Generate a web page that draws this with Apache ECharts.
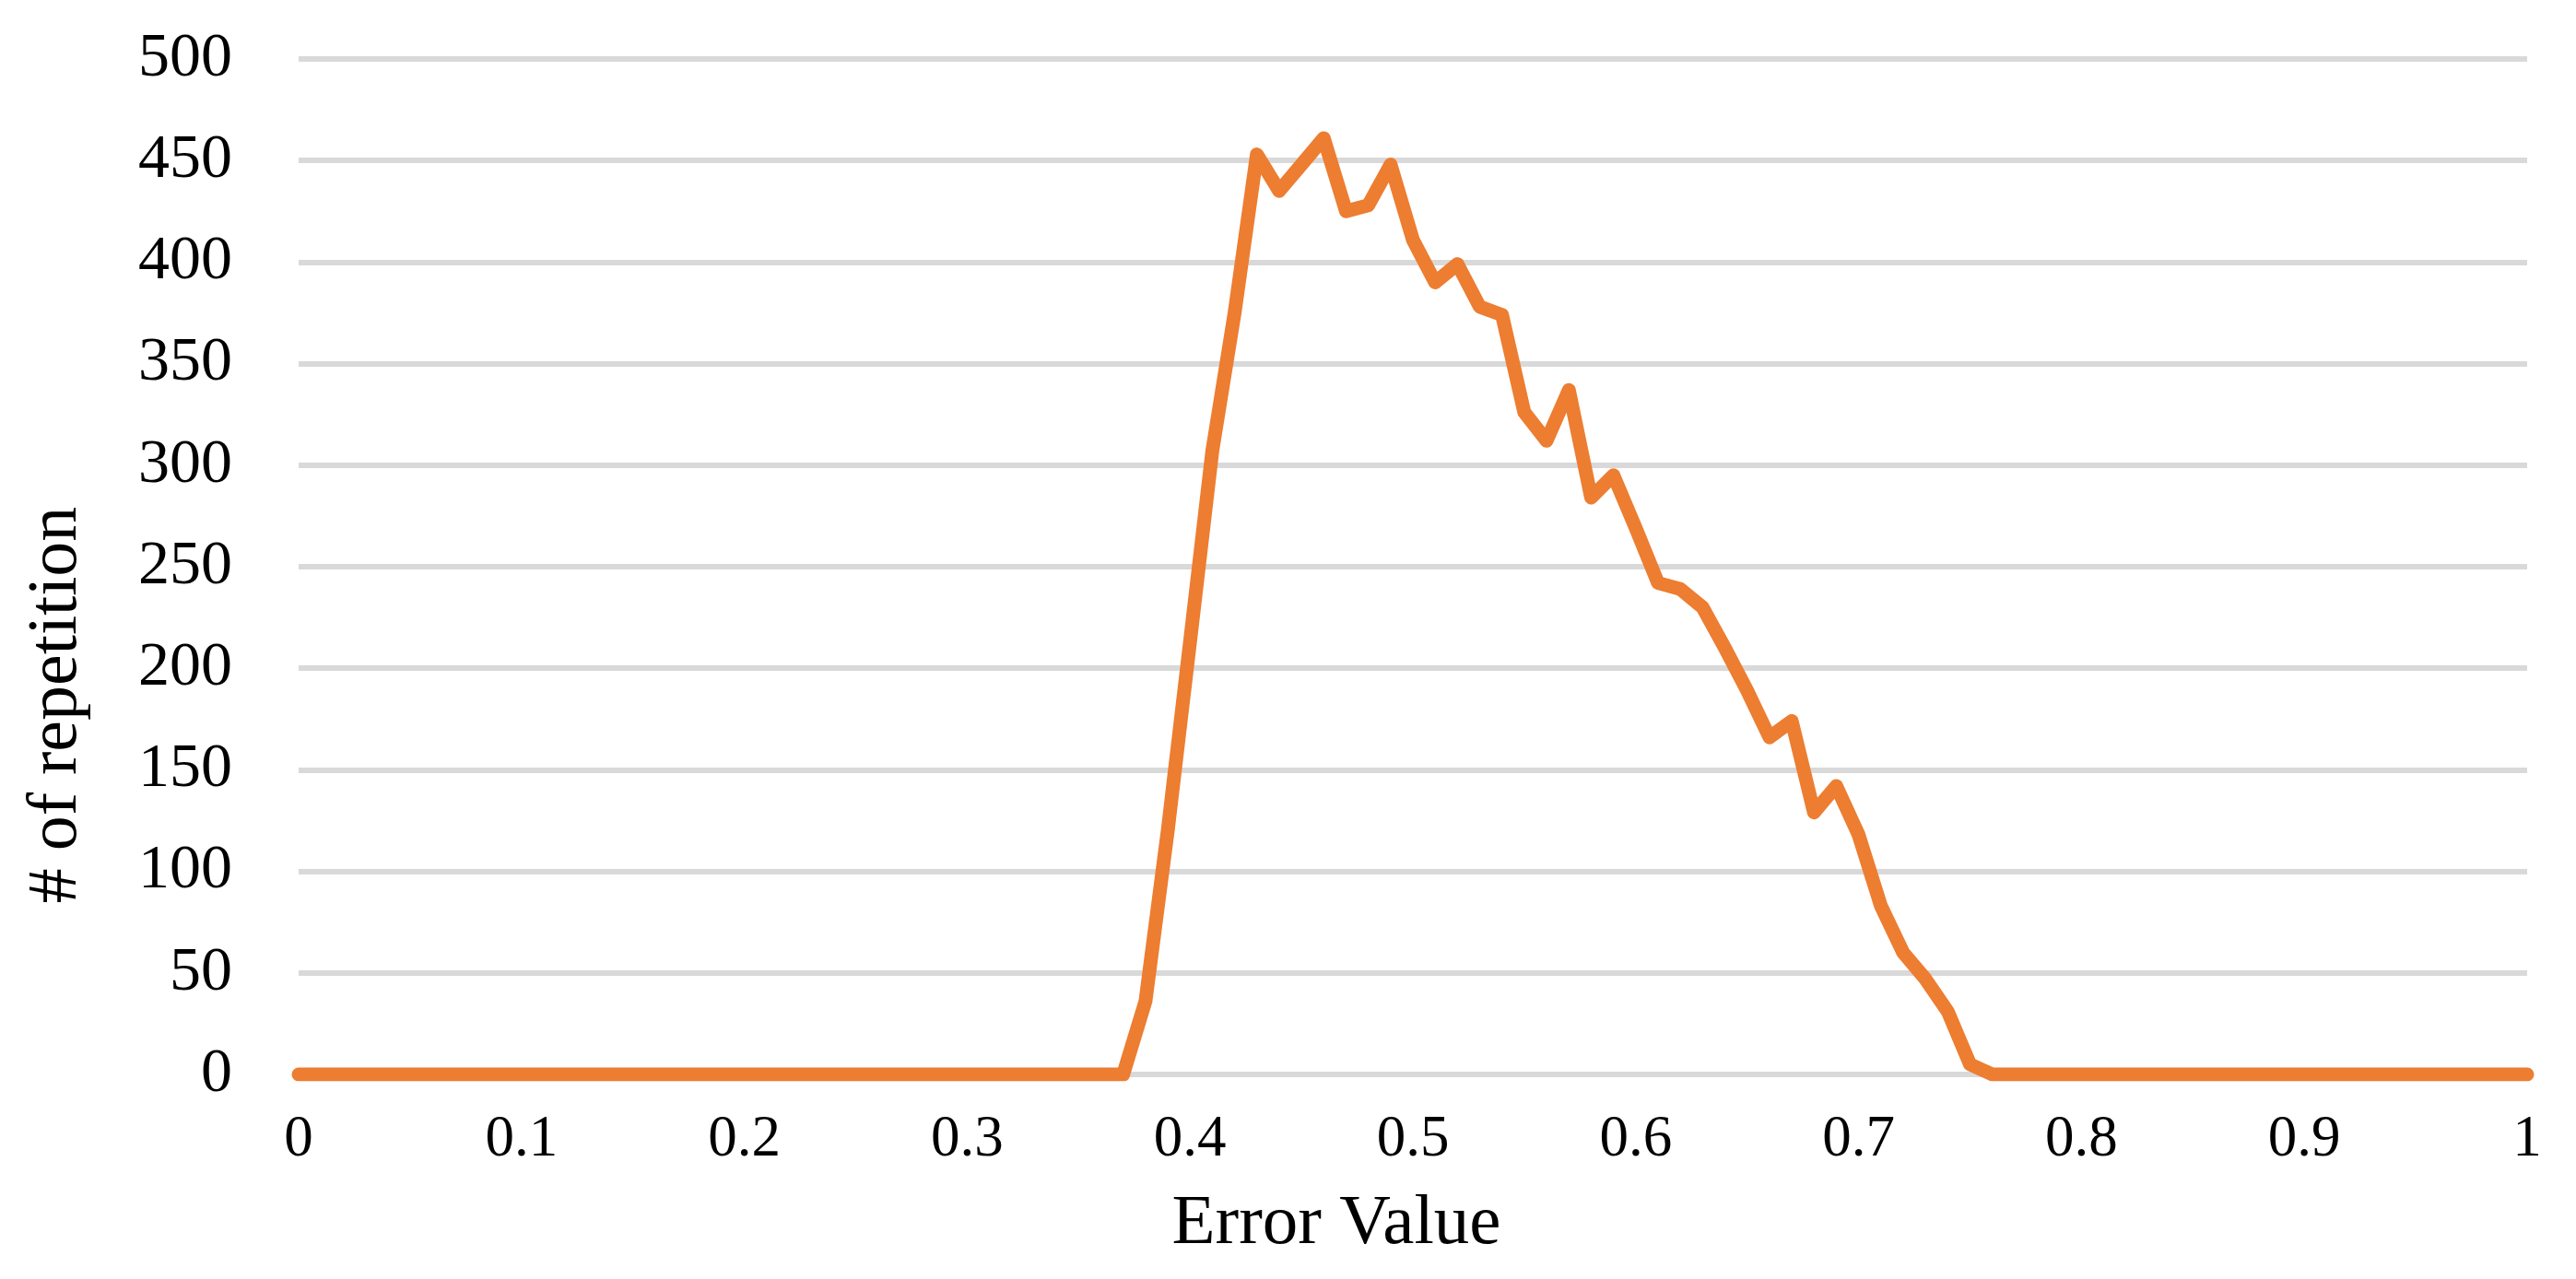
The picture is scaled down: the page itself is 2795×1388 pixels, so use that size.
<!DOCTYPE html>
<html>
<head>
<meta charset="utf-8">
<title>Error Value</title>
<script src="https://cdn.jsdelivr.net/npm/echarts@6/dist/echarts.min.js"></script>
<style>
    html, body { margin: 0; padding: 0; background: #fff; }
    #chart { width: 2795px; height: 1388px; }
</style>
</head>
<body>
<div id="chart"></div>
<script>
// 误差值（横轴）
var errorValues = [
    0, 0.01, 0.02, 0.03, 0.04, 0.05, 0.06, 0.07, 0.08, 0.09,
    0.1, 0.11, 0.12, 0.13, 0.14, 0.15, 0.16, 0.17, 0.18, 0.19,
    0.2, 0.21, 0.22, 0.23, 0.24, 0.25, 0.26, 0.27, 0.28, 0.29,
    0.3, 0.31, 0.32, 0.33, 0.34, 0.35, 0.36, 0.37, 0.38, 0.39,
    0.4, 0.41, 0.42, 0.43, 0.44, 0.45, 0.46, 0.47, 0.48, 0.49,
    0.5, 0.51, 0.52, 0.53, 0.54, 0.55, 0.56, 0.57, 0.58, 0.59,
    0.6, 0.61, 0.62, 0.63, 0.64, 0.65, 0.66, 0.67, 0.68, 0.69,
    0.7, 0.71, 0.72, 0.73, 0.74, 0.75, 0.76, 0.77, 0.78, 0.79,
    0.8, 0.81, 0.82, 0.83, 0.84, 0.85, 0.86, 0.87, 0.88, 0.89,
    0.9, 0.91, 0.92, 0.93, 0.94, 0.95, 0.96, 0.97, 0.98, 0.99,
    1
];
// 重复次数
var repetitions = [
    0, 0, 0, 0, 0, 0, 0, 0, 0, 0,
    0, 0, 0, 0, 0, 0, 0, 0, 0, 0,
    0, 0, 0, 0, 0, 0, 0, 0, 0, 0,
    0, 0, 0, 0, 0, 0, 0, 0, 36, 120,
    213, 307, 375, 453, 435, 448, 461, 425, 428, 448,
    411, 390, 399, 378, 374, 326, 312, 337, 284, 295,
    269, 242, 239, 230, 210, 189, 166, 174, 129, 142,
    118, 83, 60, 47, 31, 5, 0, 0, 0, 0,
    0, 0, 0, 0, 0, 0, 0, 0, 0, 0,
    0, 0, 0, 0, 0, 0, 0, 0, 0, 0,
    0
];
var xTitle = 'Error Value';
var yTitle = '# of repetition';

var points = [];
for (var i = 0; i < errorValues.length; i++) {
    points.push([errorValues[i], repetitions[i]]);
}

var fontName = "'Times New Roman', 'Liberation Serif', serif";
var chart = echarts.init(document.getElementById('chart'));
chart.setOption({
    animation: false,
    backgroundColor: '#ffffff',
    textStyle: { fontFamily: fontName, color: '#000' },
    grid: { left: 324, right: 53, top: 64, bottom: 222, containLabel: false },
    xAxis: {
        type: 'value',
        min: 0,
        max: 1,
        interval: 0.1,
        axisLine: { show: false },
        axisTick: { show: false },
        splitLine: { show: false },
        axisLabel: { fontSize: 63, color: '#000', margin: 40, fontFamily: fontName }
    },
    yAxis: {
        type: 'value',
        min: 0,
        max: 500,
        interval: 50,
        axisLine: { show: false },
        axisTick: { show: false },
        splitLine: { lineStyle: { color: '#D9D9D9', width: 6 } },
        axisLabel: { fontSize: 68, color: '#000', margin: 72, fontFamily: fontName }
    },
    graphic: [
        {
            type: 'text',
            x: 1450,
            y: 1329,
            style: {
                text: xTitle,
                fontSize: 77,
                fontFamily: fontName,
                fill: '#000',
                align: 'center',
                verticalAlign: 'middle'
            }
        },
        {
            type: 'text',
            x: 62,
            y: 765,
            rotation: Math.PI / 2,
            style: {
                text: yTitle,
                fontSize: 76,
                fontFamily: fontName,
                fill: '#000',
                align: 'center',
                verticalAlign: 'middle'
            }
        }
    ],
    series: [
        {
            type: 'line',
            data: points,
            showSymbol: false,
            lineStyle: { color: '#ED7D31', width: 15, cap: 'round', join: 'round' }
        }
    ]
});
</script>
</body>
</html>
